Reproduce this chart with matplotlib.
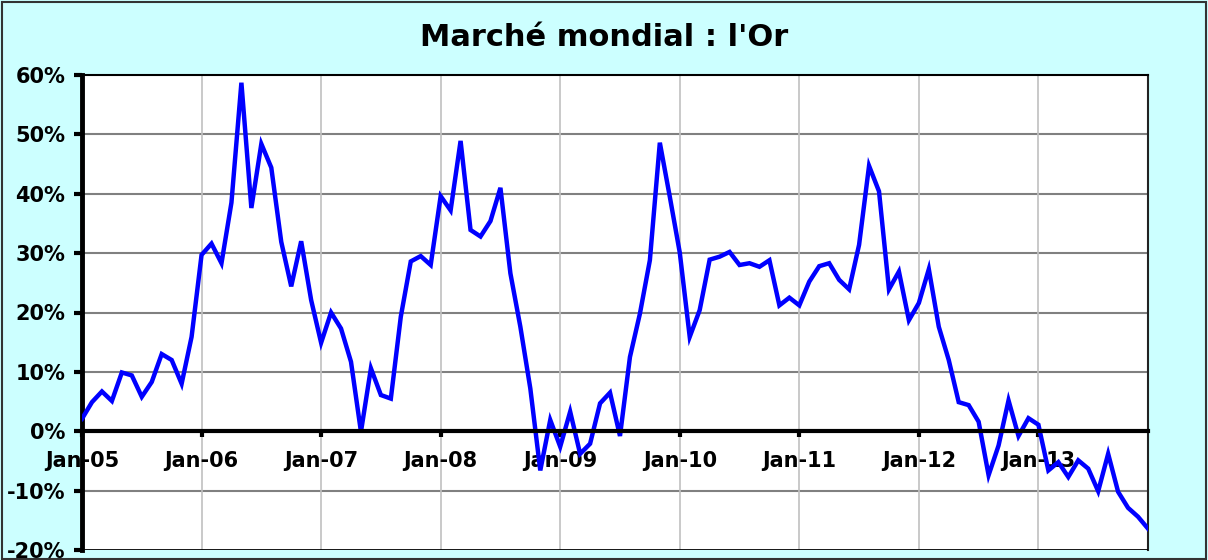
import matplotlib
matplotlib.use("Agg")
import matplotlib.pyplot as plt
import numpy as np
from matplotlib.patches import Rectangle

# monthly year-on-year change, Jan-05 .. Dec-13 (%)
values = [
    2.1, 4.9, 6.7, 5.1, 9.9, 9.4, 5.8, 8.3, 13.0, 12.0, 8.0, 15.9,
    29.7, 31.6, 28.3, 38.5, 58.7, 37.6, 48.4, 44.4, 31.9, 24.4, 32.0, 22.1,
    14.9, 20.0, 17.3, 11.7, -0.1, 10.6, 6.1, 5.5, 19.3, 28.6, 29.5, 28.0,
    39.6, 37.2, 48.9, 33.9, 32.8, 35.4, 41.0, 26.6, 17.6, 7.2, -6.6, 1.9,
    -2.6, 3.3, -3.8, -2.1, 4.7, 6.5, -0.8, 12.5, 19.8, 28.8, 48.6, 39.5,
    30.1, 15.9, 20.4, 28.9, 29.4, 30.2, 28.0, 28.3, 27.7, 28.8, 21.2, 22.5,
    21.2, 25.2, 27.8, 28.3, 25.5, 23.9, 31.4, 44.7, 40.4, 23.9, 26.9, 18.7,
    21.6, 27.3, 17.6, 12.0, 4.9, 4.4, 1.6, -7.4, -2.4, 5.2, -0.8, 2.2,
    1.1, -6.6, -5.2, -7.7, -4.9, -6.3, -10.1, -3.8, -10.2, -12.9, -14.4, -16.4,
]
tick_labels = ["Jan-05", "Jan-06", "Jan-07", "Jan-08", "Jan-09",
               "Jan-10", "Jan-11", "Jan-12", "Jan-13"]
y_ticks = [-20, -10, 0, 10, 20, 30, 40, 50, 60]
title = "Marché mondial : l'Or"

bg = "#CCFFFF"
x = np.arange(len(values))

fig = plt.figure(figsize=(12.08, 5.6), dpi=100, facecolor=bg)
ax = fig.add_axes([82 / 1208, 1 - 550 / 560, 1066 / 1208, 475 / 560])
ax.set_facecolor("white")

ax.set_xlim(0, len(values) - 1)
ax.set_ylim(-20, 60)

# grid
for v in y_ticks[1:-1]:
    if v != 0:
        ax.axhline(v, color="#808080", linewidth=1.5, zorder=1)
for i in range(12, len(values), 12):
    ax.axvline(i, color="#C0C0C0", linewidth=1.2, zorder=1)
ax.axhline(-20, color="black", linewidth=2, zorder=3)

ax.plot(x, values, color="#0000FF", linewidth=3.2, solid_joinstyle="miter", zorder=4)

# x axis sits on the zero line
ax.spines["bottom"].set_position(("data", 0))
ax.spines["bottom"].set_linewidth(3)
ax.spines["bottom"].set_zorder(5)
ax.spines["left"].set_linewidth(3.5)
ax.spines["top"].set_linewidth(1.5)
ax.spines["right"].set_linewidth(1.5)
ax.spines["right"].set_color("#222222")

ax.set_xticks(np.arange(0, len(values), 12))
ax.set_xticklabels(tick_labels)
ax.tick_params(axis="x", length=4, width=3, pad=10, labelsize=15)
for lab in ax.get_xticklabels():
    lab.set_fontweight("bold")

ax.set_yticks(y_ticks)
ax.set_yticklabels([f"{v}%" for v in y_ticks])
ax.tick_params(axis="y", length=6, width=3, pad=6, labelsize=15)
for lab in ax.get_yticklabels():
    lab.set_fontweight("bold")

fig.text(0.5, 1 - 37 / 560, title, ha="center", va="center",
         fontsize=22, fontweight="bold")

fig.patches.append(Rectangle((0.002, 0.002), 0.996, 0.994, transform=fig.transFigure,
                             fill=False, edgecolor="#333333", linewidth=1.5))

fig.savefig("out.png", dpi=100, facecolor=bg)
